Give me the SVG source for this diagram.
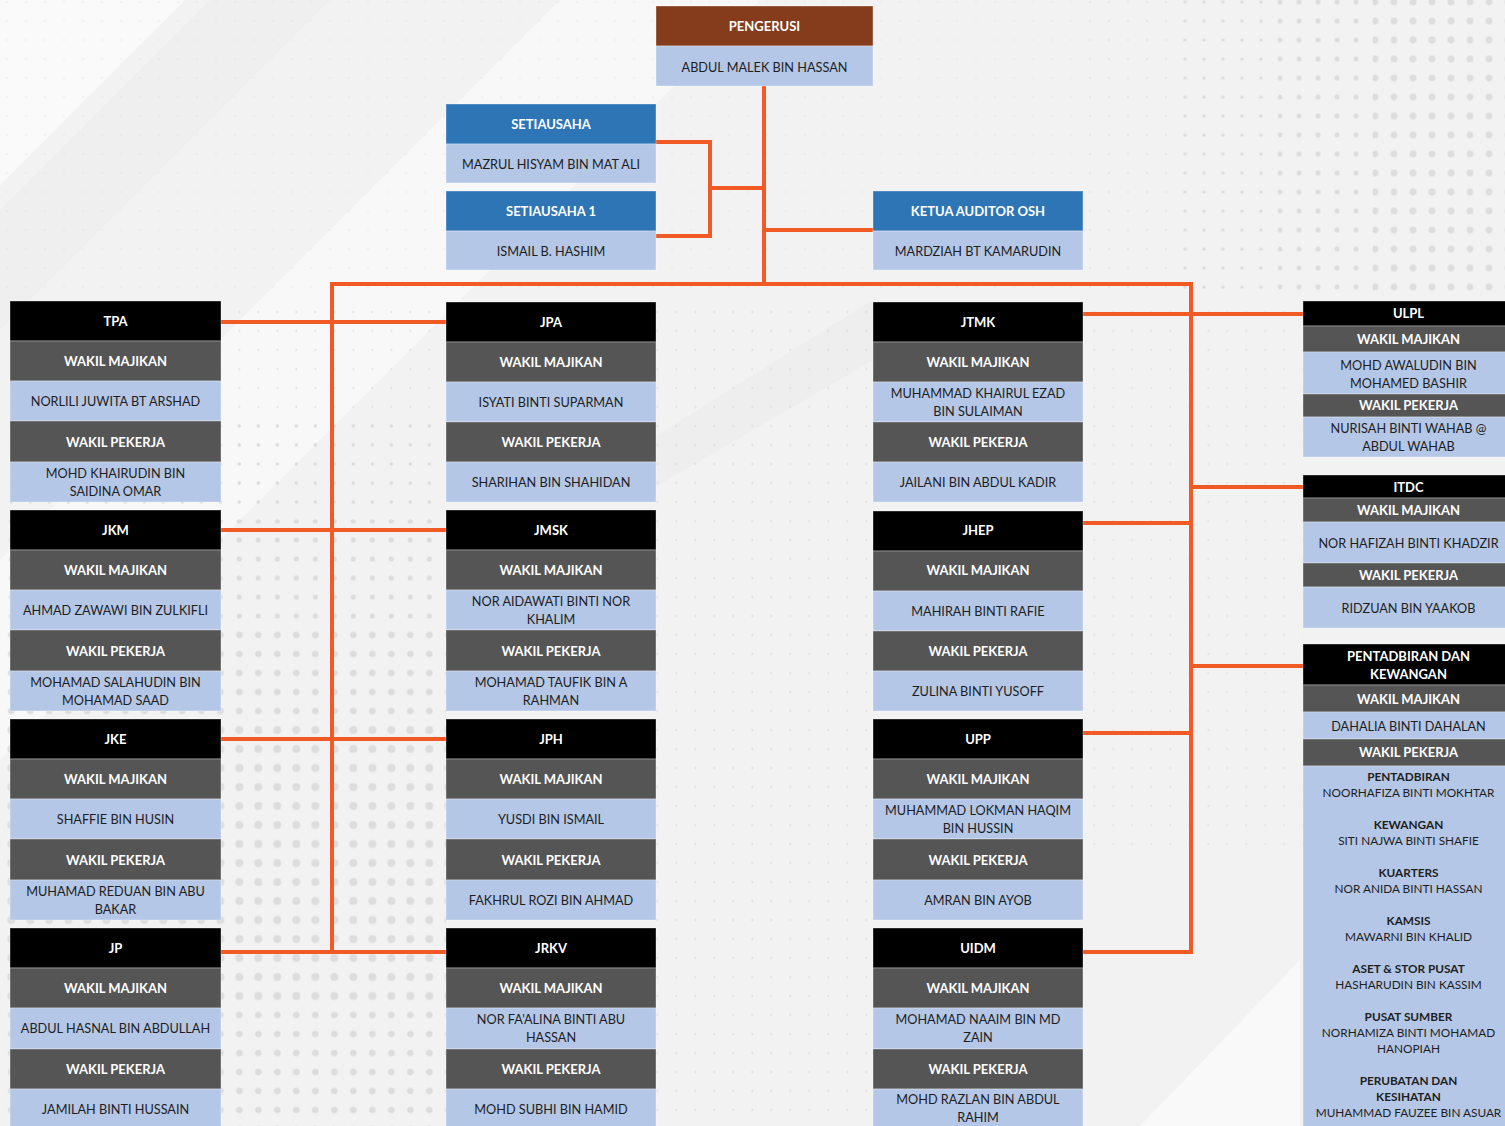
<svg xmlns="http://www.w3.org/2000/svg" width="1505" height="1126" viewBox="0 0 1505 1126">
<defs>
<style>
.hd{fill:#000000}
.wk{fill:#555555}
.nm{fill:#B4C7E7}
.bl{fill:#2E75B6}
.br{fill:#843C1C}
.sep{stroke:#ffffff;stroke-opacity:0.35;stroke-width:1}
text{font-family:Lato,"Open Sans","Liberation Sans",sans-serif;text-anchor:middle}
.th{fill:#ffffff;font-weight:bold;font-size:13px}
.tn{fill:#1e1e1e;font-size:12.7px}
.ts{fill:#1e1e1e;font-size:11.8px}
.tsb{fill:#1e1e1e;font-size:11.8px;font-weight:bold}
.cn{fill:none;stroke:#F15A24;stroke-width:4}
</style>
<pattern id="a1" width="19" height="19" patternUnits="userSpaceOnUse" x="1.8" y="-1.5"><circle cx="9.5" cy="9.5" r="0.9" fill="#d8d8d8"/></pattern>
<pattern id="a2" width="19" height="19" patternUnits="userSpaceOnUse" x="1.8" y="-1.5"><circle cx="9.5" cy="9.5" r="1.7" fill="#dadada"/></pattern>
<pattern id="a3" width="19" height="19" patternUnits="userSpaceOnUse" x="1.8" y="-1.5"><circle cx="9.5" cy="9.5" r="2.6" fill="#dcdcdc"/></pattern>
<pattern id="a4" width="19" height="19" patternUnits="userSpaceOnUse" x="1.8" y="-1.5"><circle cx="9.5" cy="9.5" r="3.3" fill="#dcdcdc"/></pattern>
<pattern id="a5" width="19" height="19" patternUnits="userSpaceOnUse" x="1.8" y="-1.5"><circle cx="9.5" cy="9.5" r="4" fill="#dddddd"/></pattern>
<pattern id="b1" width="19" height="19" patternUnits="userSpaceOnUse" x="-2.5" y="-7.5"><circle cx="9.5" cy="9.5" r="0.8" fill="#d8d8d8"/></pattern>
<pattern id="b2" width="19" height="19" patternUnits="userSpaceOnUse" x="-2.5" y="-7.5"><circle cx="9.5" cy="9.5" r="1.6" fill="#dadada"/></pattern>
<pattern id="b3" width="19" height="19" patternUnits="userSpaceOnUse" x="-2.5" y="-7.5"><circle cx="9.5" cy="9.5" r="2.5" fill="#dcdcdc"/></pattern>
<pattern id="b4" width="19" height="19" patternUnits="userSpaceOnUse" x="-2.5" y="-7.5"><circle cx="9.5" cy="9.5" r="3.4" fill="#dddddd"/></pattern>
</defs>

<g id="background">
<rect x="0" y="0" width="1505" height="1126" fill="#F2F2F2"/>
<polygon points="0,0 185,0 0,185" fill="#fafafa"/>
<polygon points="210,0 330,0 0,330 0,210" fill="#ebebeb" opacity="0.5"/>
<polygon points="560,0 760,0 0,760 0,560" fill="#fbfbfb" opacity="0.6"/>
<polygon points="873,300 873,360 650,490 650,440" fill="#e9e9e9" opacity="0.5"/>
<polygon points="1300,960 1300,1126 1140,1126" fill="#fafafa" opacity="0.8"/>
<rect x="0" y="0" width="1083" height="300" fill="url(#b1)" opacity="0.6"/>
<rect x="1083" y="0" width="100" height="300" fill="url(#b1)"/>
<rect x="1183" y="0" width="95" height="300" fill="url(#b2)"/>
<rect x="1278" y="0" width="95" height="300" fill="url(#b3)"/>
<rect x="1373" y="0" width="132" height="300" fill="url(#b4)"/>
<rect x="0" y="300" width="446" height="120" fill="url(#a1)"/>
<rect x="0" y="420" width="446" height="100" fill="url(#a2)"/>
<rect x="0" y="520" width="446" height="100" fill="url(#a3)"/>
<rect x="0" y="620" width="446" height="100" fill="url(#a4)"/>
<rect x="0" y="720" width="446" height="290" fill="url(#a5)"/>
<rect x="0" y="1010" width="446" height="116" fill="url(#a4)"/>
<rect x="656" y="300" width="217" height="826" fill="url(#a1)"/>
<rect x="1083" y="300" width="220" height="560" fill="url(#a1)" opacity="0.8"/>
</g>

<g id="connectors">
<path class="cn" d="M764,86 V284"/>
<path class="cn" d="M656,142 H710 V236 H656"/>
<path class="cn" d="M710,188 H764"/>
<path class="cn" d="M764,230 H873"/>
<path class="cn" d="M332,284 H1191"/>
<path class="cn" d="M332,282 V954"/>
<path class="cn" d="M1191,282 V954"/>
<path class="cn" d="M221,322 H446"/>
<path class="cn" d="M221,530 H446"/>
<path class="cn" d="M221,739 H446"/>
<path class="cn" d="M221,952 H446"/>
<path class="cn" d="M1083,314 H1303"/>
<path class="cn" d="M1083,523 H1191"/>
<path class="cn" d="M1083,733 H1191"/>
<path class="cn" d="M1083,952 H1191"/>
<path class="cn" d="M1191,487 H1303"/>
<path class="cn" d="M1191,666 H1303"/>
</g>

<g id="pengerusi">
<rect class="br sep" x="656" y="6" width="217" height="40"/>
<rect class="nm sep" x="656" y="46" width="217" height="40"/>
<text class="th" x="764.5" y="31">PENGERUSI</text>
<text class="tn" x="764.5" y="71.5">ABDUL MALEK BIN HASSAN</text>
</g>

<g id="setiausaha">
<rect class="bl sep" x="446" y="104" width="210" height="40"/>
<rect class="nm sep" x="446" y="144" width="210" height="39"/>
<text class="th" x="551" y="128.5">SETIAUSAHA</text>
<text class="tn" x="551" y="168.5">MAZRUL HISYAM BIN MAT ALI</text>
</g>

<g id="setiausaha1">
<rect class="bl sep" x="446" y="191" width="210" height="40"/>
<rect class="nm sep" x="446" y="231" width="210" height="39"/>
<text class="th" x="551" y="215.5">SETIAUSAHA 1</text>
<text class="tn" x="551" y="255.5">ISMAIL B. HASHIM</text>
</g>

<g id="ketua-auditor">
<rect class="bl sep" x="873" y="191" width="210" height="40"/>
<rect class="nm sep" x="873" y="231" width="210" height="39"/>
<text class="th" x="978" y="215.5">KETUA AUDITOR OSH</text>
<text class="tn" x="978" y="255.5">MARDZIAH BT KAMARUDIN</text>
</g>

<!-- Column 1 -->
<g id="tpa">
<rect class="hd sep" x="10" y="301" width="211" height="40"/>
<rect class="wk sep" x="10" y="341" width="211" height="40"/>
<rect class="nm sep" x="10" y="381" width="211" height="40"/>
<rect class="wk sep" x="10" y="421" width="211" height="41"/>
<rect class="nm sep" x="10" y="462" width="211" height="40"/>
<text class="th" x="115.5" y="325.5">TPA</text>
<text class="th" x="115.5" y="365.5">WAKIL MAJIKAN</text>
<text class="tn" x="115.5" y="406">NORLILI JUWITA BT ARSHAD</text>
<text class="th" x="115.5" y="446.5">WAKIL PEKERJA</text>
<text class="tn" x="115.5" y="477.5">MOHD KHAIRUDIN BIN</text>
<text class="tn" x="115.5" y="495.5">SAIDINA OMAR</text>
</g>

<g id="jkm">
<rect class="hd sep" x="10" y="510" width="211" height="40"/>
<rect class="wk sep" x="10" y="550" width="211" height="40"/>
<rect class="nm sep" x="10" y="590" width="211" height="40"/>
<rect class="wk sep" x="10" y="630" width="211" height="41"/>
<rect class="nm sep" x="10" y="671" width="211" height="40"/>
<text class="th" x="115.5" y="534.5">JKM</text>
<text class="th" x="115.5" y="574.5">WAKIL MAJIKAN</text>
<text class="tn" x="115.5" y="615">AHMAD ZAWAWI BIN ZULKIFLI</text>
<text class="th" x="115.5" y="655.5">WAKIL PEKERJA</text>
<text class="tn" x="115.5" y="686.5">MOHAMAD SALAHUDIN BIN</text>
<text class="tn" x="115.5" y="704.5">MOHAMAD SAAD</text>
</g>

<g id="jke">
<rect class="hd sep" x="10" y="719" width="211" height="40"/>
<rect class="wk sep" x="10" y="759" width="211" height="40"/>
<rect class="nm sep" x="10" y="799" width="211" height="40"/>
<rect class="wk sep" x="10" y="839" width="211" height="41"/>
<rect class="nm sep" x="10" y="880" width="211" height="40"/>
<text class="th" x="115.5" y="743.5">JKE</text>
<text class="th" x="115.5" y="783.5">WAKIL MAJIKAN</text>
<text class="tn" x="115.5" y="824">SHAFFIE BIN HUSIN</text>
<text class="th" x="115.5" y="864.5">WAKIL PEKERJA</text>
<text class="tn" x="115.5" y="895.5">MUHAMAD REDUAN BIN ABU</text>
<text class="tn" x="115.5" y="913.5">BAKAR</text>
</g>

<g id="jp">
<rect class="hd sep" x="10" y="928" width="211" height="40"/>
<rect class="wk sep" x="10" y="968" width="211" height="40"/>
<rect class="nm sep" x="10" y="1008" width="211" height="41"/>
<rect class="wk sep" x="10" y="1049" width="211" height="40"/>
<rect class="nm sep" x="10" y="1089" width="211" height="40"/>
<text class="th" x="115.5" y="952.5">JP</text>
<text class="th" x="115.5" y="992.5">WAKIL MAJIKAN</text>
<text class="tn" x="115.5" y="1033">ABDUL HASNAL BIN ABDULLAH</text>
<text class="th" x="115.5" y="1073.5">WAKIL PEKERJA</text>
<text class="tn" x="115.5" y="1113.5">JAMILAH BINTI HUSSAIN</text>
</g>

<!-- Column 2 -->
<g id="jpa">
<rect class="hd sep" x="446" y="302" width="210" height="40"/>
<rect class="wk sep" x="446" y="342" width="210" height="40"/>
<rect class="nm sep" x="446" y="382" width="210" height="40"/>
<rect class="wk sep" x="446" y="422" width="210" height="40"/>
<rect class="nm sep" x="446" y="462" width="210" height="40"/>
<text class="th" x="551" y="326.5">JPA</text>
<text class="th" x="551" y="366.5">WAKIL MAJIKAN</text>
<text class="tn" x="551" y="406.5">ISYATI BINTI SUPARMAN</text>
<text class="th" x="551" y="446.5">WAKIL PEKERJA</text>
<text class="tn" x="551" y="486.5">SHARIHAN BIN SHAHIDAN</text>
</g>

<g id="jmsk">
<rect class="hd sep" x="446" y="510" width="210" height="40"/>
<rect class="wk sep" x="446" y="550" width="210" height="40"/>
<rect class="nm sep" x="446" y="590" width="210" height="40"/>
<rect class="wk sep" x="446" y="630" width="210" height="41"/>
<rect class="nm sep" x="446" y="671" width="210" height="40"/>
<text class="th" x="551" y="534.5">JMSK</text>
<text class="th" x="551" y="574.5">WAKIL MAJIKAN</text>
<text class="tn" x="551" y="606">NOR AIDAWATI BINTI NOR</text>
<text class="tn" x="551" y="624">KHALIM</text>
<text class="th" x="551" y="655.5">WAKIL PEKERJA</text>
<text class="tn" x="551" y="686.5">MOHAMAD TAUFIK BIN A</text>
<text class="tn" x="551" y="704.5">RAHMAN</text>
</g>

<g id="jph">
<rect class="hd sep" x="446" y="719" width="210" height="40"/>
<rect class="wk sep" x="446" y="759" width="210" height="40"/>
<rect class="nm sep" x="446" y="799" width="210" height="40"/>
<rect class="wk sep" x="446" y="839" width="210" height="41"/>
<rect class="nm sep" x="446" y="880" width="210" height="40"/>
<text class="th" x="551" y="743.5">JPH</text>
<text class="th" x="551" y="783.5">WAKIL MAJIKAN</text>
<text class="tn" x="551" y="823.5">YUSDI BIN ISMAIL</text>
<text class="th" x="551" y="864.5">WAKIL PEKERJA</text>
<text class="tn" x="551" y="904.5">FAKHRUL ROZI BIN AHMAD</text>
</g>

<g id="jrkv">
<rect class="hd sep" x="446" y="928" width="210" height="40"/>
<rect class="wk sep" x="446" y="968" width="210" height="40"/>
<rect class="nm sep" x="446" y="1008" width="210" height="41"/>
<rect class="wk sep" x="446" y="1049" width="210" height="40"/>
<rect class="nm sep" x="446" y="1089" width="210" height="40"/>
<text class="th" x="551" y="952.5">JRKV</text>
<text class="th" x="551" y="992.5">WAKIL MAJIKAN</text>
<text class="tn" x="551" y="1024">NOR FA'ALINA BINTI ABU</text>
<text class="tn" x="551" y="1042">HASSAN</text>
<text class="th" x="551" y="1073.5">WAKIL PEKERJA</text>
<text class="tn" x="551" y="1113.5">MOHD SUBHI BIN HAMID</text>
</g>

<!-- Column 3 -->
<g id="jtmk">
<rect class="hd sep" x="873" y="302" width="210" height="40"/>
<rect class="wk sep" x="873" y="342" width="210" height="40"/>
<rect class="nm sep" x="873" y="382" width="210" height="40"/>
<rect class="wk sep" x="873" y="422" width="210" height="40"/>
<rect class="nm sep" x="873" y="462" width="210" height="40"/>
<text class="th" x="978" y="326.5">JTMK</text>
<text class="th" x="978" y="366.5">WAKIL MAJIKAN</text>
<text class="tn" x="978" y="397.5">MUHAMMAD KHAIRUL EZAD</text>
<text class="tn" x="978" y="415.5">BIN SULAIMAN</text>
<text class="th" x="978" y="446.5">WAKIL PEKERJA</text>
<text class="tn" x="978" y="486.5">JAILANI BIN ABDUL KADIR</text>
</g>

<g id="jhep">
<rect class="hd sep" x="873" y="511" width="210" height="40"/>
<rect class="wk sep" x="873" y="551" width="210" height="40"/>
<rect class="nm sep" x="873" y="591" width="210" height="40"/>
<rect class="wk sep" x="873" y="631" width="210" height="40"/>
<rect class="nm sep" x="873" y="671" width="210" height="40"/>
<text class="th" x="978" y="535">JHEP</text>
<text class="th" x="978" y="575">WAKIL MAJIKAN</text>
<text class="tn" x="978" y="615.5">MAHIRAH BINTI RAFIE</text>
<text class="th" x="978" y="655.5">WAKIL PEKERJA</text>
<text class="tn" x="978" y="695.5">ZULINA BINTI YUSOFF</text>
</g>

<g id="upp">
<rect class="hd sep" x="873" y="719" width="210" height="40"/>
<rect class="wk sep" x="873" y="759" width="210" height="40"/>
<rect class="nm sep" x="873" y="799" width="210" height="40"/>
<rect class="wk sep" x="873" y="839" width="210" height="41"/>
<rect class="nm sep" x="873" y="880" width="210" height="40"/>
<text class="th" x="978" y="743.5">UPP</text>
<text class="th" x="978" y="783.5">WAKIL MAJIKAN</text>
<text class="tn" x="978" y="815">MUHAMMAD LOKMAN HAQIM</text>
<text class="tn" x="978" y="833">BIN HUSSIN</text>
<text class="th" x="978" y="864.5">WAKIL PEKERJA</text>
<text class="tn" x="978" y="904.5">AMRAN BIN AYOB</text>
</g>

<g id="uidm">
<rect class="hd sep" x="873" y="928" width="210" height="40"/>
<rect class="wk sep" x="873" y="968" width="210" height="40"/>
<rect class="nm sep" x="873" y="1008" width="210" height="41"/>
<rect class="wk sep" x="873" y="1049" width="210" height="40"/>
<rect class="nm sep" x="873" y="1089" width="210" height="40"/>
<text class="th" x="978" y="952.5">UIDM</text>
<text class="th" x="978" y="992.5">WAKIL MAJIKAN</text>
<text class="tn" x="978" y="1024">MOHAMAD NAAIM BIN MD</text>
<text class="tn" x="978" y="1042">ZAIN</text>
<text class="th" x="978" y="1073.5">WAKIL PEKERJA</text>
<text class="tn" x="978" y="1104">MOHD RAZLAN BIN ABDUL</text>
<text class="tn" x="978" y="1122">RAHIM</text>
</g>

<!-- Column 4 -->
<g id="ulpl">
<rect class="hd sep" x="1303" y="301" width="210" height="25"/>
<rect class="wk sep" x="1303" y="326" width="210" height="26"/>
<rect class="nm sep" x="1303" y="352" width="210" height="42"/>
<rect class="wk sep" x="1303" y="394" width="210" height="23"/>
<rect class="nm sep" x="1303" y="417" width="210" height="40"/>
<text class="th" x="1408.5" y="318">ULPL</text>
<text class="th" x="1408.5" y="344">WAKIL MAJIKAN</text>
<text class="tn" x="1408.5" y="369.5">MOHD AWALUDIN BIN</text>
<text class="tn" x="1408.5" y="387.5">MOHAMED BASHIR</text>
<text class="th" x="1408.5" y="410">WAKIL PEKERJA</text>
<text class="tn" x="1408.5" y="432.5">NURISAH BINTI WAHAB @</text>
<text class="tn" x="1408.5" y="450.5">ABDUL WAHAB</text>
</g>

<g id="itdc">
<rect class="hd sep" x="1303" y="475" width="210" height="23"/>
<rect class="wk sep" x="1303" y="498" width="210" height="24"/>
<rect class="nm sep" x="1303" y="522" width="210" height="41"/>
<rect class="wk sep" x="1303" y="563" width="210" height="24"/>
<rect class="nm sep" x="1303" y="587" width="210" height="41"/>
<text class="th" x="1408.5" y="491.5">ITDC</text>
<text class="th" x="1408.5" y="515">WAKIL MAJIKAN</text>
<text class="tn" x="1408.5" y="547.5">NOR HAFIZAH BINTI KHADZIR</text>
<text class="th" x="1408.5" y="580">WAKIL PEKERJA</text>
<text class="tn" x="1408.5" y="612.5">RIDZUAN BIN YAAKOB</text>
</g>

<g id="pentadbiran-kewangan">
<rect class="hd sep" x="1303" y="644" width="210" height="41"/>
<rect class="wk sep" x="1303" y="685" width="210" height="27"/>
<rect class="nm sep" x="1303" y="712" width="210" height="27"/>
<rect class="wk sep" x="1303" y="739" width="210" height="27"/>
<rect class="nm sep" x="1303" y="766" width="210" height="362"/>
<text class="th" x="1408.5" y="660.5">PENTADBIRAN DAN</text>
<text class="th" x="1408.5" y="678.5">KEWANGAN</text>
<text class="th" x="1408.5" y="703.5">WAKIL MAJIKAN</text>
<text class="tn" x="1408.5" y="730.5">DAHALIA BINTI DAHALAN</text>
<text class="th" x="1408.5" y="757">WAKIL PEKERJA</text>
<text class="tsb" x="1408.5" y="781">PENTADBIRAN</text>
<text class="ts" x="1408.5" y="797">NOORHAFIZA BINTI MOKHTAR</text>
<text class="tsb" x="1408.5" y="829">KEWANGAN</text>
<text class="ts" x="1408.5" y="845">SITI NAJWA BINTI SHAFIE</text>
<text class="tsb" x="1408.5" y="877">KUARTERS</text>
<text class="ts" x="1408.5" y="893">NOR ANIDA BINTI HASSAN</text>
<text class="tsb" x="1408.5" y="925">KAMSIS</text>
<text class="ts" x="1408.5" y="941">MAWARNI BIN KHALID</text>
<text class="tsb" x="1408.5" y="973">ASET &amp; STOR PUSAT</text>
<text class="ts" x="1408.5" y="989">HASHARUDIN BIN KASSIM</text>
<text class="tsb" x="1408.5" y="1021">PUSAT SUMBER</text>
<text class="ts" x="1408.5" y="1037">NORHAMIZA BINTI MOHAMAD</text>
<text class="ts" x="1408.5" y="1053">HANOPIAH</text>
<text class="tsb" x="1408.5" y="1085">PERUBATAN DAN</text>
<text class="tsb" x="1408.5" y="1101">KESIHATAN</text>
<text class="ts" x="1408.5" y="1117">MUHAMMAD FAUZEE BIN ASUAR</text>
</g>
</svg>
